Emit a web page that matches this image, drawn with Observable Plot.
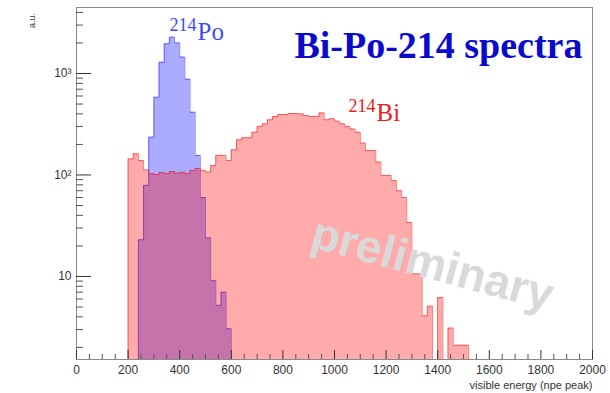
<!DOCTYPE html>
<html><head><meta charset="utf-8">
<script src="https://cdn.jsdelivr.net/npm/d3@7"></script>
<script src="https://cdn.jsdelivr.net/npm/@observablehq/plot@0.6"></script>
<style>body{margin:0;background:#fff} #chart svg{display:block}</style>
</head><body><div id="chart"></div>
<script>
// ---- data (bin width 20 npe) ----
const binWidth = 20;
const biFirstBin = 200;
const biCounts = [144, 162, 139, 112, 103, 101, 106, 103, 108, 104,
                  106, 103, 111, 116, 111, 107, 124, 156, 156, 139,
                  177, 222, 233, 233, 264, 301, 319, 350, 377, 394,
                  394, 403, 403, 400, 385, 377, 377, 409, 350, 358,
                  339, 319, 300, 284, 264, 206, 174, 174, 134, 99,
                  99, 88, 70, 60, 34, 10.6, 10.6, 4.1, 5.1, 0,
                  6.2, 0, 3.1, 2.1, 2.1, 2.1];
const poFirstBin = 240;
const poCounts = [23, 79, 236, 584, 1290, 1960, 2280, 2000, 1450, 880,
                  415, 156, 60, 24, 9.1, 5.2, 7.0, 3.05];

const xMajorTicks = [0, 200, 400, 600, 800, 1000, 1200, 1400, 1600, 1800, 2000];
const xMinorTicks = [50, 100, 150, 250, 300, 350, 450, 500, 550, 650, 700, 750, 850, 900, 950,
                     1050, 1100, 1150, 1250, 1300, 1350, 1450, 1500, 1550, 1650, 1700, 1750,
                     1850, 1900, 1950];
const yMajorTicks = [10, 100, 1000];
const yTickLabels = ["10", "10²", "10³"];
const yMinorTicks = [2, 3, 4, 5, 6, 7, 8, 9, 20, 30, 40, 50, 60, 70, 80, 90,
                     200, 300, 400, 500, 600, 700, 800, 900, 2000, 3000, 4000];
const yDomain = [1.52, 4470];
const xDomain = [0, 2000];

const W = 610, H = 393, mL = 76, mR = 18, mT = 7, mB = 34;
const plotW = W - mL - mR, plotH = H - mT - mB;
const floor = yDomain[0];

function steps(first, counts) {
  const pts = [{x: first, y: floor}];
  counts.forEach((c, i) => pts.push({x: first + i * binWidth, y: c > 0 ? c : floor}));
  const end = first + counts.length * binWidth;
  const last = counts[counts.length - 1];
  pts.push({x: end, y: last > 0 ? last : floor});
  pts.push({x: end, y: floor});
  return pts;
}
const biSteps = steps(biFirstBin, biCounts);
const poSteps = steps(poFirstBin, poCounts);

const serif = "'Liberation Serif', 'Times New Roman', serif";

const chart = Plot.plot({
  width: W, height: H,
  marginLeft: mL, marginRight: mR, marginTop: mT, marginBottom: mB,
  x: {domain: xDomain, axis: null},
  y: {type: "log", domain: yDomain, axis: null},
  style: {fontFamily: "'Liberation Sans', Arial, sans-serif", background: "white"},
  marks: [
    // Po histogram
    Plot.areaY(poSteps, {x: "x", y1: floor, y2: "y", curve: "step-after", fill: "blue", fillOpacity: 0.33}),
    Plot.line(poSteps, {x: "x", y: "y", curve: "step-after", stroke: "blue", strokeOpacity: 0.45, strokeWidth: 1}),
    // Bi histogram
    Plot.areaY(biSteps, {x: "x", y1: floor, y2: "y", curve: "step-after", fill: "red", fillOpacity: 0.33}),
    Plot.line(biSteps, {x: "x", y: "y", curve: "step-after", stroke: "red", strokeOpacity: 0.5, strokeWidth: 1}),
    // watermark (drawn on top)
    Plot.text(["preliminary"], {frameAnchor: "top-left", dx: 356, dy: 257, textAnchor: "middle",
      lineAnchor: "middle", rotate: 15, fontSize: 46, fontWeight: "bold", fill: "#d9d9d9"}),
    // frame
    Plot.frame({stroke: "#8a8a8a", strokeWidth: 1}),
    // x ticks
    Plot.ruleX(xMajorTicks, {x: d => d, insetTop: plotH - 9, stroke: "#333"}),
    Plot.ruleX(xMinorTicks, {x: d => d, insetTop: plotH - 5, stroke: "#555"}),
    Plot.text(xMajorTicks, {x: d => d, text: d => String(d), frameAnchor: "bottom", dy: 11,
      lineAnchor: "middle", fontSize: 12, fill: "#333"}),
    // y ticks
    Plot.ruleY(yMajorTicks, {y: d => d, insetRight: plotW - 15, stroke: "#333"}),
    Plot.ruleY(yMinorTicks, {y: d => d, insetRight: plotW - 7, stroke: "#555"}),
    Plot.text(yMajorTicks, {y: d => d, text: (d, i) => yTickLabels[i], frameAnchor: "left", dx: -5,
      textAnchor: "end", lineAnchor: "middle", fontSize: 12, fill: "#333"}),
    // axis titles
    Plot.text(["a.u."], {frameAnchor: "top-left", dx: -44, dy: 13, rotate: -90, textAnchor: "middle",
      lineAnchor: "middle", fontSize: 9, fill: "#333"}),
    Plot.text(["visible energy (npe peak)"], {frameAnchor: "bottom-right", dy: 29, textAnchor: "end",
      lineAnchor: "bottom", fontSize: 11, fill: "#333"}),
    // chart title
    Plot.text(["Bi-Po-214 spectra"], {frameAnchor: "top-right", dx: -10, dy: 50, textAnchor: "end",
      lineAnchor: "bottom", fontFamily: serif, fontWeight: "bold", fontSize: 38, fill: "#0a0acd"}),
    // series labels
    Plot.text(["214"], {frameAnchor: "top-left", dx: 120, dy: 23, textAnchor: "end", lineAnchor: "bottom",
      fontFamily: serif, fontSize: 18, fill: "#3d4cf5"}),
    Plot.text(["Po"], {frameAnchor: "top-left", dx: 121, dy: 32, textAnchor: "start", lineAnchor: "bottom",
      fontFamily: serif, fontSize: 25, fill: "#3d4cf5"}),
    Plot.text(["214"], {frameAnchor: "top-left", dx: 299, dy: 104, textAnchor: "end", lineAnchor: "bottom",
      fontFamily: serif, fontSize: 18, fill: "#f01818"}),
    Plot.text(["Bi"], {frameAnchor: "top-left", dx: 300, dy: 113, textAnchor: "start", lineAnchor: "bottom",
      fontFamily: serif, fontSize: 25, fill: "#f01818"})
  ]
});
document.getElementById("chart").appendChild(chart);
</script>
</body></html>
